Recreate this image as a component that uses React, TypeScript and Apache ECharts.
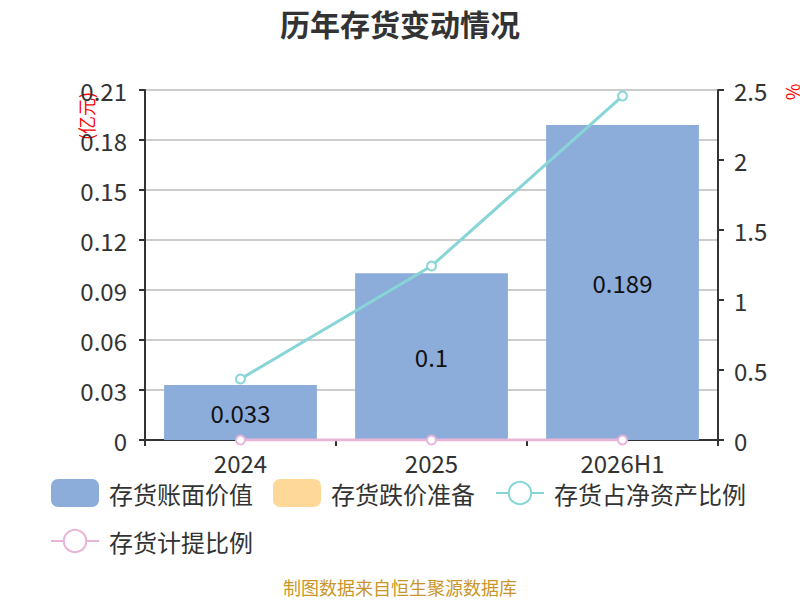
import React, { useEffect, useRef } from "react";
import * as echarts from "echarts";

const categories = ["2024", "2025", "2026H1"];
const bookValue = [0.033, 0.1, 0.189];
const impairmentReserve = [0, 0, 0];
const ratioToNetAssets = [0.436, 1.243, 2.457];
const provisionRatio = [0, 0, 0];

export default function App() {
  const ref = useRef<HTMLDivElement>(null);
  useEffect(() => {
    if (!ref.current) return;
    const chart = echarts.init(ref.current, null, { renderer: "svg" });
    const font = "'Noto Sans CJK SC', 'Noto Sans', sans-serif";
    chart.setOption({
      animation: false,
      textStyle: { fontFamily: font },
      title: {
        text: "历年存货变动情况",
        left: "center",
        top: 3,
        textStyle: { fontSize: 30, fontWeight: "bold", color: "#333", fontFamily: font },
      },
      legend: {
        left: 45,
        top: 474,
        width: 740,
        itemWidth: 48,
        itemHeight: 28,
        itemGap: 20,
        textStyle: { fontSize: 24, color: "#333", fontFamily: font, padding: [0, 0, 0, 5] },
        data: [
          { name: "存货账面价值", icon: "roundRect" },
          { name: "存货跌价准备", icon: "roundRect" },
          { name: "存货占净资产比例" },
          { name: "存货计提比例" },
        ],
      },
      grid: { left: 145, right: 82, top: 90, bottom: 160, containLabel: false },
      xAxis: {
        type: "category",
        data: categories,
        axisLine: { lineStyle: { color: "#333", width: 2 } },
        axisTick: { show: true, length: 6, lineStyle: { color: "#333", width: 2 } },
        axisLabel: { fontSize: 24, color: "#333", margin: 10 },
      },
      yAxis: [
        {
          type: "value",
          min: 0,
          max: 0.21,
          interval: 0.03,
          axisLine: { show: true, lineStyle: { color: "#333", width: 2 } },
          axisTick: { show: true, length: 6, lineStyle: { color: "#333", width: 2 } },
          axisLabel: { fontSize: 24, color: "#333", margin: 18 },
          splitLine: { lineStyle: { color: "#ccc", width: 2 } },
        },
        {
          type: "value",
          min: 0,
          max: 2.5,
          interval: 0.5,
          axisLine: { show: true, lineStyle: { color: "#333", width: 2 } },
          axisTick: { show: true, length: 6, lineStyle: { color: "#333", width: 2 } },
          axisLabel: { fontSize: 24, color: "#333", margin: 16 },
          splitLine: { show: false },
        },
      ],
      graphic: [
        {
          type: "text",
          x: 86,
          y: 116,
          rotation: Math.PI / 2,
          style: {
            text: "(亿元)",
            fill: "#f00",
            fontSize: 18,
            fontFamily: font,
            align: "center",
            verticalAlign: "middle",
          },
        },
        {
          type: "text",
          x: 792,
          y: 92,
          rotation: Math.PI / 2,
          style: {
            text: "%",
            fill: "#f00",
            fontSize: 18,
            fontFamily: font,
            align: "center",
            verticalAlign: "middle",
          },
        },
        {
          type: "text",
          x: 400,
          y: 587,
          style: {
            text: "制图数据来自恒生聚源数据库",
            fill: "#c8962a",
            fontSize: 18,
            fontFamily: font,
            align: "center",
            verticalAlign: "middle",
          },
        },
      ],
      series: [
        {
          name: "存货账面价值",
          type: "bar",
          data: bookValue,
          barWidth: "80%",
          barGap: "-100%",
          itemStyle: { color: "#8cacd9" },
          label: { show: true, position: "inside", fontSize: 24, color: "#111" },
        },
        {
          name: "存货跌价准备",
          type: "bar",
          data: impairmentReserve,
          barWidth: "80%",
          itemStyle: { color: "#fdd898" },
        },
        {
          name: "存货占净资产比例",
          type: "line",
          yAxisIndex: 1,
          data: ratioToNetAssets,
          symbol: "emptyCircle",
          symbolSize: 9,
          lineStyle: { color: "#88d5d8", width: 3 },
          itemStyle: { color: "#88d5d8", borderWidth: 2 },
        },
        {
          name: "存货计提比例",
          type: "line",
          yAxisIndex: 1,
          data: provisionRatio,
          symbol: "emptyCircle",
          symbolSize: 9,
          lineStyle: { color: "#e8b4d8", width: 3 },
          itemStyle: { color: "#e8b4d8", borderWidth: 2 },
        },
      ],
    });
    return () => chart.dispose();
  }, []);
  return (
    <div
      ref={ref}
      style={{ position: "fixed", left: 0, top: 0, width: 800, height: 600, background: "#fff" }}
    />
  );
}
